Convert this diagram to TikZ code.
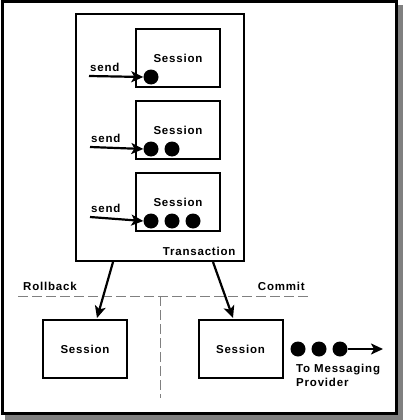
\documentclass[tikz,border=0pt]{standalone}
\usepackage{fontspec}
\setmainfont{Liberation Sans}
\usetikzlibrary{arrows.meta,positioning}

\begin{document}
\begin{tikzpicture}[x=1pt,y=-1pt,
  sess/.style={draw,line width=2pt,minimum width=84pt,minimum height=58pt,inner sep=0pt},
  lbl/.style={font=\fontsize{11.5}{14}\selectfont\bfseries\addfontfeature{LetterSpace=7}},
  msg/.style={circle,fill,minimum size=15pt,inner sep=0pt},
  arr/.style={line width=2.2pt,-{Stealth[length=12pt,width=11pt,inset=3pt]}},
  sep/.style={gray,line width=1pt,dash pattern=on 10pt off 4pt}]

\useasboundingbox (0,0) rectangle (403,420);

% frame with shadow
\fill[gray] (5,5) rectangle (403,420);
\draw[line width=3pt,fill=white] (2,2) rectangle (396,413);

% transaction
\node[draw,line width=2pt,minimum width=168pt,minimum height=247pt,inner sep=0pt] (trans) at (160,137.5) {};
\node[lbl,anchor=south east] (tlbl) at ([xshift=-6pt,yshift=3pt]trans.south east) {Transaction};

\node[sess] (s1) at (178,58) {};
\node[sess,below=12pt of s1] (s2) {};
\node[sess,below=12pt of s2] (s3) {};

\node[lbl] (s1lbl) at (s1) {Session};
\node[lbl] (s2lbl) at (s2) {Session};
\node[lbl] (s3lbl) at (s3) {Session};

% messages
\node[msg] (a1) at ([xshift=16pt,yshift=11pt]s1.south west) {};
\foreach \k/\dx in {1/16,2/37}
  \node[msg] (b\k) at ([xshift=\dx pt,yshift=11pt]s2.south west) {};
\foreach \k/\dx in {1/16,2/37,3/58}
  \node[msg] (c\k) at ([xshift=\dx pt,yshift=11pt]s3.south west) {};

% send
\coordinate (in1) at (89,76);
\coordinate (in2) at (90,147);
\coordinate (in3) at (90,217);
\node[lbl,anchor=base west,inner sep=0pt] (snd1) at (90,71) {send};
\node[lbl,anchor=base west,inner sep=0pt] (snd2) at (91,142) {send};
\node[lbl,anchor=base west,inner sep=0pt] (snd3) at (91,212) {send};
\draw[arr] (in1) -- (a1.west);
\draw[arr] (in2) -- (b1.west);
\draw[arr] (in3) -- (c1.west);

% outcome
\draw[sep] (18,296) -- (310,296);
\draw[sep] (160,296) -- (160,398);
\node[lbl,anchor=west,inner sep=0pt] (rb) at (23,286) {Rollback};
\node[lbl,anchor=east,inner sep=0pt] (cm) at (305,286) {Commit};

\node[sess] (left) at (85,349) {};
\node[sess] (right) at (240.5,349) {};
\node[lbl] (llbl) at (left) {Session};
\node[lbl] (rlbl) at (right) {Session};

\draw[arr] ([xshift=-47pt]trans.south) -- ([xshift=12pt,yshift=1pt]left.north);
\draw[arr] ([xshift=53pt]trans.south) -- ([xshift=-7.5pt,yshift=1pt]right.north);

\foreach \k/\x in {1/298,2/319,3/340}
  \node[msg] (m\k) at (\x,349) {};
\coordinate (prov) at (383,349);
\draw[arr] (m3.east) -- (prov);
\node[lbl,anchor=north west,align=left,inner sep=0pt] (to) at (296,364) {To Messaging\\Provider};

\end{tikzpicture}
\end{document}
